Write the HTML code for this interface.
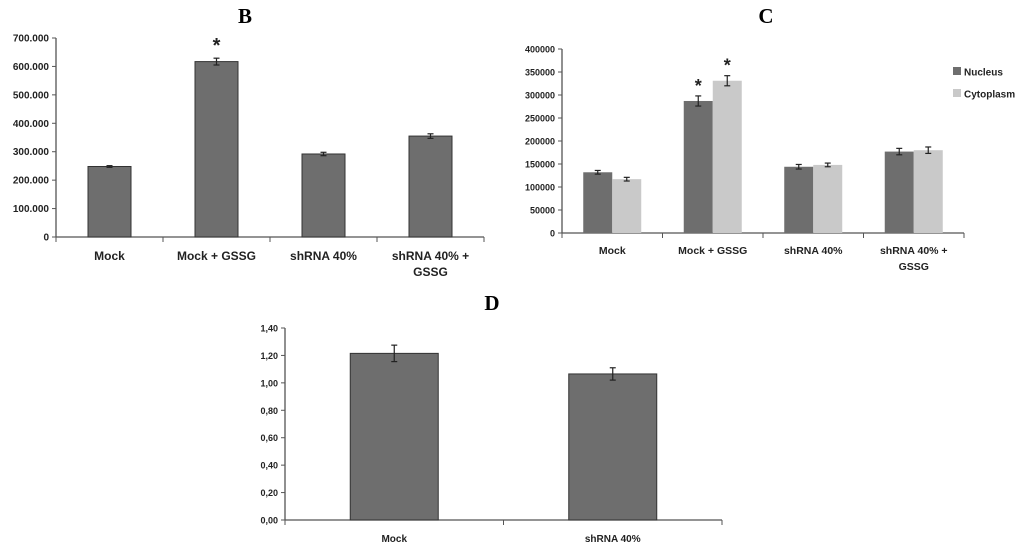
<!DOCTYPE html>
<html><head><meta charset="utf-8">
<style>
html,body{margin:0;padding:0;background:#fff;}
svg{display:block;}
text{font-family:"Liberation Sans",Arial,sans-serif;font-weight:bold;fill:#222;}
.ttl{font-family:"Liberation Serif",serif;font-size:21px;fill:#000;}
</style></head>
<body>
<svg id="fig" width="1024" height="552" viewBox="0 0 1024 552" xmlns="http://www.w3.org/2000/svg">
<text class="ttl" x="245" y="23" text-anchor="middle">B</text>
<text class="ttl" x="766" y="23" text-anchor="middle">C</text>
<text class="ttl" x="492" y="310" text-anchor="middle">D</text>
</svg>
<script>
// Panel B data
const bCategories = [["Mock"],["Mock + GSSG"],["shRNA 40%"],["shRNA 40% +","GSSG"]];
const bValues = [248000, 617000, 292000, 355000];
const bErrors = [3000, 12000, 6000, 8000];
const bStars = [false, true, false, false];
const bTicks = ["0","100.000","200.000","300.000","400.000","500.000","600.000","700.000"];
// Panel C data
const cCategories = [["Mock"],["Mock + GSSG"],["shRNA 40%"],["shRNA 40%  +","GSSG"]];
const cNucleus = [132000, 287000, 144000, 177000];
const cNucleusErr = [4000, 11000, 5000, 7000];
const cCytoplasm = [117000, 331000, 148000, 180000];
const cCytoplasmErr = [4000, 11000, 4000, 7000];
const cStarsN = [false, true, false, false];
const cStarsC = [false, true, false, false];
const cTicks = ["0","50000","100000","150000","200000","250000","300000","350000","400000"];
const cLegend = ["Nucleus","Cytoplasm"];
// Panel D data
const dCategories = [["Mock"],["shRNA 40%"]];
const dValues = [1.215, 1.065];
const dErrors = [0.06, 0.045];
const dTicks = ["0,00","0,20","0,40","0,60","0,80","1,00","1,20","1,40"];

const NS="http://www.w3.org/2000/svg";
const svg=document.getElementById('fig');
function mk(tag,attrs,parent,txt){const e=document.createElementNS(NS,tag);for(const k in attrs)e.setAttribute(k,attrs[k]);if(txt!==undefined)e.textContent=txt;(parent||svg).appendChild(e);return e;}

function axes(g,p,ticks,tickStep,nCat){
  const y=v=>p.y0-(v/p.max)*(p.y0-p.yTop);
  const ax=mk('line',{x1:p.x0,y1:p.yTop,x2:p.x0,y2:p.y0,stroke:'#555','stroke-width':1.3},g);
  
  
  const bx=mk('line',{x1:p.x0,y1:p.y0,x2:p.x1,y2:p.y0,stroke:'#555','stroke-width':1.3},g);
  
  
  ticks.forEach((t,i)=>{
    const yy=y(i*tickStep);
    mk('line',{x1:p.x0-4,y1:yy,x2:p.x0,y2:yy,stroke:'#555','stroke-width':1},g);
    const tx=mk('text',{x:p.x0-7,y:yy+3.5,'text-anchor':'end','font-size':p.tfs},g,t);
    
    
  });
  const cw=(p.x1-p.x0)/nCat;
  for(let i=0;i<=nCat;i++){mk('line',{x1:p.x0+i*cw,y1:p.y0,x2:p.x0+i*cw,y2:p.y0+5,stroke:'#555','stroke-width':1},g);}
  return {y,cw};
}
function errbar(g,cx,top,bot){
  mk('line',{x1:cx,y1:top,x2:cx,y2:bot,stroke:'#222','stroke-width':1.2},g);
  mk('line',{x1:cx-3,y1:top,x2:cx+3,y2:top,stroke:'#222','stroke-width':1.2},g);
  mk('line',{x1:cx-3,y1:bot,x2:cx+3,y2:bot,stroke:'#222','stroke-width':1.2},g);
}
function catLabels(g,p,cw,cats,ly,fs){
  cats.forEach((lines,i)=>{
    const cx=p.x0+cw*(i+0.5);
    lines.forEach((l,j)=>{
      const t=mk('text',{x:cx,y:ly+j*16,'text-anchor':'middle','font-size':fs},g,l);
      
      
    });
  });
}

// Panel B
(function(){
  const g=mk('g',{});
  
  
  const p={x0:56,x1:484,y0:237,yTop:38,max:700000,tfs:10};
  const {y,cw}=axes(g,p,bTicks,100000,bCategories.length);
  const bw=43;
  bValues.forEach((v,i)=>{
    const cx=p.x0+cw*(i+0.5);
    const r=mk('rect',{x:cx-bw/2,y:y(v),width:bw,height:p.y0-y(v),fill:'#6e6e6e',stroke:'#333','stroke-width':1},g);
    
    
    errbar(g,cx,y(v+bErrors[i]),y(v-bErrors[i]));
    if(bStars[i]){const s=mk('text',{x:cx,y:y(v+bErrors[i])-6,'text-anchor':'middle','font-size':20},g,'*');
      
      }
  });
  catLabels(g,p,cw,bCategories,260,12);
})();

// Panel C
(function(){
  const g=mk('g',{});
  
  
  const p={x0:562,x1:964,y0:233,yTop:49,max:400000,tfs:9};
  const {y,cw}=axes(g,p,cTicks,50000,cCategories.length);
  const bw=29;
  cCategories.forEach((c,i)=>{
    const cc=p.x0+cw*(i+0.5);
    [[cNucleus,cNucleusErr,'#6e6e6e',-1,cStarsN,'nucleus'],[cCytoplasm,cCytoplasmErr,'#c9c9c9',0,cStarsC,'cytoplasm']].forEach(s=>{
      const v=s[0][i],e=s[1][i];
      const x=cc+s[3]*bw;
      const r=mk('rect',{x:x,y:y(v),width:bw,height:p.y0-y(v),fill:s[2]},g);
      
      
      errbar(g,x+bw/2,y(v+e),y(v-e));
      if(s[4][i]){const st=mk('text',{x:x+bw/2,y:y(v+e)-4,'text-anchor':'middle','font-size':18},g,'*');
        
        }
    });
  });
  catLabels(g,p,cw,cCategories,254,10.5);
  const cols=['#6e6e6e','#c9c9c9'];
  cLegend.forEach((l,i)=>{
    const ly=72+i*22;
    const sq=mk('rect',{x:953,y:ly-5,width:8,height:8,fill:cols[i]},g);
    
    
    const t=mk('text',{x:964,y:ly+3.5,'font-size':10},g,l);
    
    
  });
})();

// Panel D
(function(){
  const g=mk('g',{});
  
  
  const p={x0:285,x1:722,y0:520,yTop:328,max:1.4,tfs:9};
  const {y,cw}=axes(g,p,dTicks,0.2,dCategories.length);
  const bw=88;
  dValues.forEach((v,i)=>{
    const cx=p.x0+cw*(i+0.5);
    const r=mk('rect',{x:cx-bw/2,y:y(v),width:bw,height:p.y0-y(v),fill:'#6e6e6e',stroke:'#333','stroke-width':1},g);
    
    
    errbar(g,cx,y(v+dErrors[i]),y(v-dErrors[i]));
  });
  catLabels(g,p,cw,dCategories,542,10);
})();
</script>
</body></html>
